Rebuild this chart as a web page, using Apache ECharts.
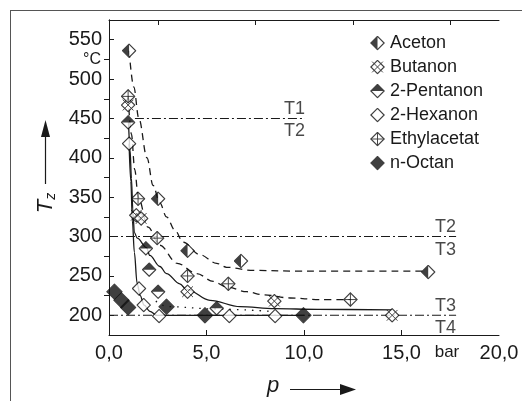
<!DOCTYPE html>
<html>
<head>
<meta charset="utf-8">
<script src="https://cdn.jsdelivr.net/npm/echarts@6/dist/echarts.min.js"></script>
<style>
html, body { margin: 0; padding: 0; background: #fff; }
#main { width: 522px; height: 401px; }
</style>
</head>
<body>
<div id="main"></div>
<script>
// Messpunkte [p in bar, Tz in °C]
var aceton      = [[1.03, 536], [2.52, 348], [4.03, 282], [6.77, 269], [16.37, 255]];
var butanon     = [[0.98, 467], [1.4, 327], [1.65, 323], [4.03, 230], [8.48, 218], [14.52, 200]];
var pentanon    = [[0.98, 445], [1.89, 285], [2.06, 258], [2.52, 230], [5.52, 209]];
var hexanon     = [[1.03, 418], [1.54, 234], [1.78, 213], [2.57, 199], [6.17, 199], [8.52, 199]];
var ethylacetat = [[0.98, 478], [1.49, 348], [2.47, 298], [4.03, 250], [6.12, 240], [12.38, 220]];
var octan       = [[0.28, 230], [0.64, 219], [0.98, 210], [2.95, 211], [4.92, 200], [9.97, 200]];

// Ausgleichskurven
var acetonFit = [[1.03, 536], [1.27, 490], [1.53, 450], [1.95, 400], [2.26, 365], [2.6, 343], [2.95, 325],
                 [3.38, 308], [3.8, 293], [4.66, 277], [5.52, 266], [6.03, 261], [7.4, 257], [10, 256], [16.3, 256]];
var ethylFit  = [[0.98, 478], [1.15, 430], [1.32, 385], [1.5, 350], [2.0, 312], [2.6, 289], [3.5, 266],
                 [4.5, 253], [5.35, 243], [6.04, 236], [7.06, 230], [7.92, 226], [9.29, 222], [10.8, 220], [12.4, 220]];
var butanonFit = [[1.0, 445], [1.08, 410], [1.15, 374], [1.22, 335], [1.3, 305], [1.45, 298], [1.92, 286],
                  [2.09, 276], [2.61, 262], [2.95, 253], [3.63, 240], [3.98, 233], [5.18, 219], [6.72, 211],
                  [8.5, 208.5], [10.7, 207.5], [14.5, 207]];
var hexanonFit = [[1.03, 418], [1.12, 370], [1.2, 320], [1.3, 280], [1.44, 241], [1.6, 225], [1.8, 213],
                  [2.1, 205], [2.44, 200], [10, 200]];
var pentanonFit = [[2.4, 218], [3.0, 211], [5.5, 208], [8.3, 205]];

// Grenzlinien der Temperaturklassen
var lineT12 = [[1.33, 450], [10.05, 450]];
var lineT23 = [[0, 300], [17.8, 300]];
var lineT34 = [[0, 200], [17.8, 200]];
var labelsAbove = [[10.05, 450, 'T1'], [17.8, 300, 'T2'], [17.8, 200, 'T3']];
var labelsBelow = [[10.05, 450, 'T2'], [17.8, 300, 'T3'], [17.8, 200, 'T4']];

// Achsen
var xTicks = [0, 5, 10, 15, 20];
var xTopTicks = [2.5, 7.5, 12.5, 17.5];
var yTicks = [200, 250, 300, 350, 400, 450, 500, 550];
var yRightTicks = [225, 275, 325, 375, 425, 475, 525];

var names = ['Aceton', 'Butanon', '2-Pentanon', '2-Hexanon', 'Ethylacetat', 'n-Octan'];

// Symbole als kleine SVG-Bilder
var dia = 'M7 0.8 L13.2 7 L7 13.2 L0.8 7 Z';
function svgIcon(inner) {
    var s = '<svg xmlns="http://www.w3.org/2000/svg" width="28" height="28" viewBox="0 0 14 14">' + inner + '</svg>';
    return 'image://data:image/svg+xml;charset=utf-8,' + encodeURIComponent(s);
}
var outline = '<path d="' + dia + '" fill="none" stroke="#111" stroke-width="1.1"/>';
var icons = [
    svgIcon('<path d="' + dia + '" fill="#fff"/><path d="M7 0.8 L0.8 7 L7 13.2 Z" fill="#111"/>' + outline),
    svgIcon('<path d="' + dia + '" fill="#fff"/>' + outline +
            '<path d="M2 2 L12 12 M12 2 L2 12" stroke="#111" stroke-width="0.9"/>'),
    svgIcon('<path d="' + dia + '" fill="#fff"/><path d="M0.8 7 L7 0.8 L13.2 7 Z" fill="#111"/>' + outline),
    svgIcon('<path d="' + dia + '" fill="#fff"/>' + outline),
    svgIcon('<path d="' + dia + '" fill="#fff"/>' + outline +
            '<path d="M7 0.8 L7 13.2 M0.8 7 L13.2 7" stroke="#111" stroke-width="0.9"/>'),
    svgIcon('<path d="' + dia + '" fill="#111" stroke="#111" stroke-width="1"/>')
];
var pointSets = [aceton, butanon, pentanon, hexanon, ethylacetat, octan];
var pointSizes = [15, 15, 15, 15, 15, 17];

var ink = '#1a1a1a';
var font = '"Liberation Sans", Arial, sans-serif';
var dashDot = [9, 3, 2, 3];

function curve(data, dash) {
    return {
        type: 'line', data: data, symbol: 'none', silent: true, z: 2,
        smooth: 0.35, smoothMonotone: 'x',
        lineStyle: { color: ink, width: 1.3, type: dash }
    };
}
function refLine(data) {
    return {
        type: 'line', data: data, symbol: 'none', silent: true, z: 1,
        lineStyle: { color: ink, width: 1.1, type: dashDot }
    };
}
function refLabels(data, pos, dist) {
    return {
        type: 'scatter', data: data, symbol: 'circle', symbolSize: 0.1, silent: true, z: 3,
        itemStyle: { color: 'transparent' },
        label: {
            show: true, position: pos, distance: dist, align: 'right',
            formatter: function (p) { return p.value[2]; },
            fontFamily: font, fontSize: 18, color: ink
        }
    };
}

var series = [
    curve(acetonFit, [7, 5]),
    curve(ethylFit, [7, 5]),
    curve(butanonFit, 'solid'),
    curve(hexanonFit, 'solid'),
    curve(pentanonFit, [1.5, 6]),
    refLine(lineT12), refLine(lineT23), refLine(lineT34),
    refLabels(labelsAbove, 'top', 0),
    refLabels(labelsBelow, 'bottom', 4)
];
names.forEach(function (n, i) {
    series.push({
        name: n, type: 'scatter', data: pointSets[i], symbol: icons[i], symbolSize: pointSizes[i], z: 5
    });
});

var myChart = echarts.init(document.getElementById('main'));
var option = {
    animation: false,
    backgroundColor: '#fff',
    textStyle: { fontFamily: font },
    grid: { left: 109, top: 20, right: 23, bottom: 66, outerBoundsMode: 'none' },
    legend: {
        orient: 'vertical', left: 365, top: 29,
        itemWidth: 15, itemHeight: 15, itemGap: 6,
        selectedMode: false,
        textStyle: { fontFamily: font, fontSize: 18, color: ink, lineHeight: 18 },
        data: names.map(function (n, i) { return { name: n, icon: icons[i] }; })
    },
    xAxis: [{
        type: 'value', min: 0, max: 20, interval: 5, position: 'bottom',
        axisLine: { show: true, lineStyle: { color: ink, width: 1 } },
        axisTick: { show: true, inside: true, length: 5, lineStyle: { color: ink }, customValues: [5, 10, 15] },
        axisLabel: {
            show: true, margin: 8, color: ink, fontSize: 20, fontFamily: font,
            customValues: xTicks, showMinLabel: true, showMaxLabel: true,
            formatter: function (v) { return v.toFixed(1).replace('.', ','); }
        },
        splitLine: { show: false }
    }, {
        type: 'value', min: 0, max: 20, position: 'top',
        axisLine: { show: true, lineStyle: { color: ink, width: 1 } },
        axisTick: { show: true, inside: true, length: 5, lineStyle: { color: ink }, customValues: xTopTicks },
        axisLabel: { show: false },
        splitLine: { show: false }
    }],
    yAxis: [{
        type: 'value', min: 175, max: 575, position: 'left',
        axisLine: { show: true, lineStyle: { color: ink, width: 1 } },
        axisTick: { show: true, inside: true, length: 5, lineStyle: { color: ink }, customValues: yTicks },
        axisLabel: { show: true, margin: 7, color: ink, fontSize: 20, fontFamily: font, customValues: yTicks },
        splitLine: { show: false }
    }, {
        type: 'value', min: 175, max: 575, position: 'right',
        axisLine: { show: true, lineStyle: { color: ink, width: 1 } },
        axisTick: { show: true, inside: true, length: 5, lineStyle: { color: ink }, customValues: yRightTicks },
        axisLabel: { show: false },
        splitLine: { show: false }
    }],
    graphic: [
        // Rahmen
        { type: 'line', shape: { x1: 10, y1: 10.5, x2: 522, y2: 10.5 }, style: { stroke: '#555', lineWidth: 1 } },
        { type: 'line', shape: { x1: 10.5, y1: 10, x2: 10.5, y2: 401 }, style: { stroke: '#555', lineWidth: 1 } },
        // Einheiten
        { type: 'text', x: 101, y: 60, style: { text: '°C', fontFamily: font, fontSize: 16, fill: ink, align: 'right', verticalAlign: 'middle' } },
        { type: 'text', x: 447, y: 352, style: { text: 'bar', fontFamily: font, fontSize: 17, fill: ink, align: 'center', verticalAlign: 'middle' } },
        // Achsentitel y
        {
            type: 'text', x: 46, y: 203, rotation: Math.PI / 2,
            style: {
                text: '{i|T}{s|z}', align: 'center', verticalAlign: 'middle',
                rich: {
                    i: { fontFamily: font, fontSize: 22, fontStyle: 'italic', fill: ink },
                    s: { fontFamily: font, fontSize: 14, fontStyle: 'italic', fill: ink, padding: [10, 0, 0, 0] }
                }
            }
        },
        { type: 'line', shape: { x1: 45.5, y1: 184, x2: 45.5, y2: 135 }, style: { stroke: ink, lineWidth: 1.2 } },
        { type: 'polygon', shape: { points: [[41, 137], [50, 137], [45.5, 120]] }, style: { fill: ink } },
        // Achsentitel x
        { type: 'text', x: 273, y: 386, style: { text: 'p', fontFamily: font, fontSize: 22, fontStyle: 'italic', fill: ink, align: 'center', verticalAlign: 'middle' } },
        { type: 'line', shape: { x1: 290, y1: 389.5, x2: 342, y2: 389.5 }, style: { stroke: ink, lineWidth: 1.2 } },
        { type: 'polygon', shape: { points: [[340, 384], [340, 395], [356, 389.5]] }, style: { fill: ink } }
    ],
    series: series
};
myChart.setOption(option);
</script>
</body>
</html>
